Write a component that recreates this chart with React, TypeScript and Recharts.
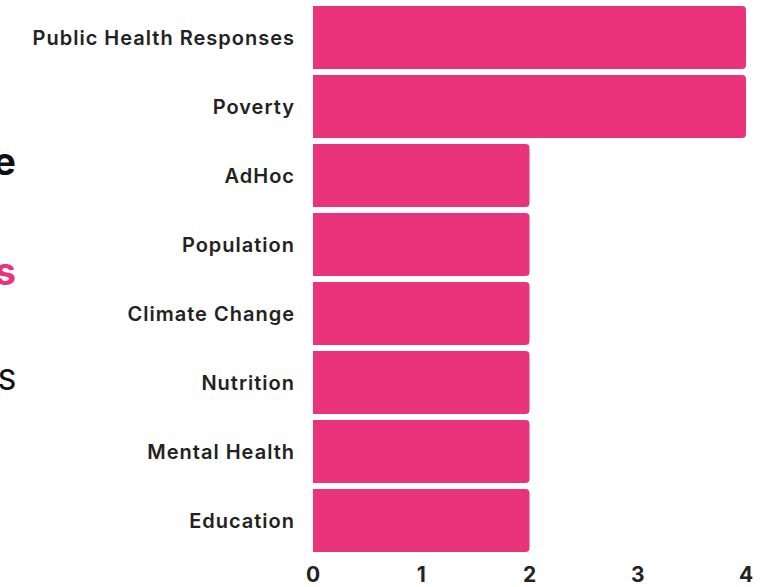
import { BarChart, Bar, XAxis, YAxis } from "recharts";

const categories = [
  "Public Health Responses",
  "Poverty",
  "AdHoc",
  "Population",
  "Climate Change",
  "Nutrition",
  "Mental Health",
  "Education",
];
const counts = [4, 4, 2, 2, 2, 2, 2, 2];
const xTicks = [0, 1, 2, 3, 4];

const PINK = "#E9347C";
const FONT = "Inter, 'Noto Sans', sans-serif";

const data = categories.map((name, i) => ({ name, value: counts[i] }));

// bits of page text that bleed in from the left edge
const edgeText = [
  { text: "e", top: 139, size: 38, weight: 700, color: "#111111" },
  { text: "s", top: 249, size: 38, weight: 700, color: PINK },
  { text: "S", top: 364, size: 28, weight: 500, color: "#111111" },
];

export default function App() {
  return (
    <div
      style={{
        position: "absolute",
        left: 0,
        top: 0,
        width: 764,
        height: 587,
        background: "#fff",
        overflow: "hidden",
        fontFamily: FONT,
      }}
    >
      {edgeText.map((t) => (
        <div
          key={t.text + t.top}
          style={{
            position: "absolute",
            left: -100,
            width: 116,
            top: t.top,
            textAlign: "right",
            fontSize: t.size,
            fontWeight: t.weight,
            color: t.color,
            lineHeight: 1.2,
          }}
        >
          {t.text}
        </div>
      ))}
      <BarChart
        width={764}
        height={587}
        data={data}
        layout="vertical"
        margin={{ top: 3, right: 18, bottom: 0, left: 0 }}
        barCategoryGap={3}
      >
        <XAxis
          type="number"
          domain={[0, 4]}
          ticks={xTicks}
          height={32}
          axisLine={false}
          tickLine={false}
          tickSize={0}
          tickMargin={12}
          tick={{ fill: "#222222", fontSize: 21, fontWeight: 700, fontFamily: FONT }}
        />
        <YAxis
          type="category"
          dataKey="name"
          width={313}
          axisLine={false}
          tickLine={false}
          tickSize={0}
          tickMargin={18}
          interval={0}
          tick={{
            fill: "#222222",
            fontSize: 20,
            fontWeight: 600,
            fontFamily: FONT,
            letterSpacing: 1,
          }}
        />
        <Bar
          dataKey="value"
          fill={PINK}
          radius={[0, 4, 4, 0]}
          isAnimationActive={false}
        />
      </BarChart>
    </div>
  );
}
